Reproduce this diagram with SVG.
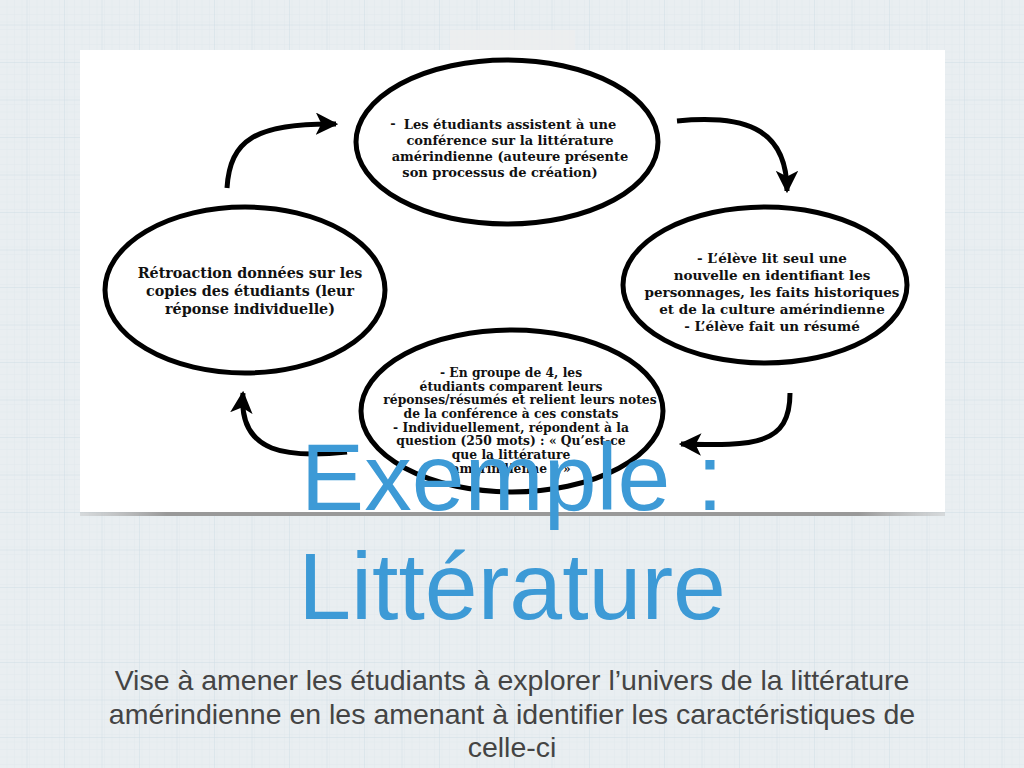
<svg xmlns="http://www.w3.org/2000/svg" width="1024" height="768" viewBox="0 0 1024 768">
<defs>
<pattern id="minor" width="7.5" height="7.5" patternUnits="userSpaceOnUse">
<path d="M7.5 0V7.5M0 7.5H7.5" stroke="#dde6eb" stroke-width="0.6" fill="none"/>
</pattern>
<pattern id="major" width="37.5" height="37.5" patternUnits="userSpaceOnUse" x="-10" y="-12">
<path d="M37.5 0V37.5M0 37.5H37.5" stroke="#cfdde6" stroke-width="1" fill="none"/>
</pattern>
<linearGradient id="shadow" x1="0" y1="0" x2="1" y2="0">
<stop offset="0" stop-color="#bbb" stop-opacity="0.4"/>
<stop offset="0.1" stop-color="#999"/>
<stop offset="0.9" stop-color="#999"/>
<stop offset="1" stop-color="#bbb" stop-opacity="0.4"/>
</linearGradient>
<marker id="ah" viewBox="0 0 10 10" refX="9" refY="5" markerWidth="4.5" markerHeight="4.5" markerUnits="strokeWidth" orient="auto">
<path d="M0 0L10 5L0 10L2.5 5Z" fill="#000"/>
</marker>
</defs>
<style>
.ell{fill:#fff;stroke:#000;stroke-width:5}
.nt{font-family:"DejaVu Serif","Liberation Serif",serif;font-weight:bold;font-size:13px;fill:#111;text-anchor:middle}
.lf{font-size:14.3px}
.rt{font-size:13.5px}
.sm{font-size:12.3px}
.arr{fill:none;stroke:#000;stroke-width:5;marker-end:url(#ah)}
.title{font-family:"Liberation Sans",Arial,sans-serif;font-size:95px;fill:#3d9ad6;text-anchor:middle}
.sub{font-family:"Liberation Sans",Arial,sans-serif;font-size:28.5px;fill:#444;text-anchor:middle}
</style>
<rect width="1024" height="768" fill="#e9eef1"/>
<rect width="1024" height="768" fill="url(#minor)"/>
<rect width="1024" height="768" fill="url(#major)"/>
<rect x="450" y="30" width="125" height="28" fill="#eceeef" opacity="0.8"/>
<rect x="80" y="511" width="865" height="5" fill="url(#shadow)"/>
<rect x="80" y="50" width="865" height="462" fill="#fff"/>

<g id="connectors">
<path class="arr" d="M227 188 C230 140 255 123 336 124"/>
<path class="arr" d="M677 121 C740 115 787 125 787 191"/>
<path class="arr" d="M790 393 C790 445 755 446 681 444"/>
<path class="arr" d="M347 452 C290 458 238 455 243 393"/>
</g>

<g id="node-top">
<ellipse class="ell" cx="507" cy="142" rx="151" ry="82"/>
<text class="nt" x="393" y="128" text-anchor="start">-</text>
<text class="nt" x="510" y="129">Les étudiants assistent à une</text>
<text class="nt" x="510" y="145">conférence sur la littérature</text>
<text class="nt" x="510" y="161">amérindienne (auteure présente</text>
<text class="nt" x="500" y="177">son processus de création)</text>
</g>

<g id="node-right">
<ellipse class="ell" cx="765" cy="285" rx="142" ry="78"/>
<text class="nt rt" x="772" y="263">- L’élève lit seul une</text>
<text class="nt rt" x="772" y="280">nouvelle en identifiant les</text>
<text class="nt rt" x="772" y="297">personnages, les faits historiques</text>
<text class="nt rt" x="772" y="314">et de la culture amérindienne</text>
<text class="nt rt" x="772" y="331">- L’élève fait un résumé</text>
</g>

<g id="node-left">
<ellipse class="ell" cx="245" cy="290" rx="140" ry="83"/>
<text class="nt lf" x="250" y="278">Rétroaction données sur les</text>
<text class="nt lf" x="250" y="296">copies des étudiants (leur</text>
<text class="nt lf" x="250" y="314">réponse individuelle)</text>
</g>

<g id="node-bottom">
<ellipse class="ell" cx="512" cy="411" rx="151" ry="81"/>
<text class="nt sm" x="511" y="377">- En groupe de 4, les</text>
<text class="nt sm" x="511" y="391">étudiants comparent leurs</text>
<text class="nt sm" x="520" y="404">réponses/résumés et relient leurs notes</text>
<text class="nt sm" x="511" y="418">de la conférence à ces constats</text>
<text class="nt sm" x="511" y="432">- Individuellement, répondent à la</text>
<text class="nt sm" x="511" y="445">question (250 mots) : « Qu’est-ce</text>
<text class="nt sm" x="511" y="459">que la littérature</text>
<text class="nt sm" x="511" y="473">amérindienne ? »</text>
</g>

<g id="title">
<text class="title" x="512" y="510">Exemple :</text>
<text class="title" x="512" y="619">Littérature</text>
</g>
<g id="subtitle">
<text class="sub" x="512" y="690">Vise à amener les étudiants à explorer l’univers de la littérature</text>
<text class="sub" x="512" y="724">amérindienne en les amenant à identifier les caractéristiques de</text>
<text class="sub" x="512" y="757">celle-ci</text>
</g>
</svg>
